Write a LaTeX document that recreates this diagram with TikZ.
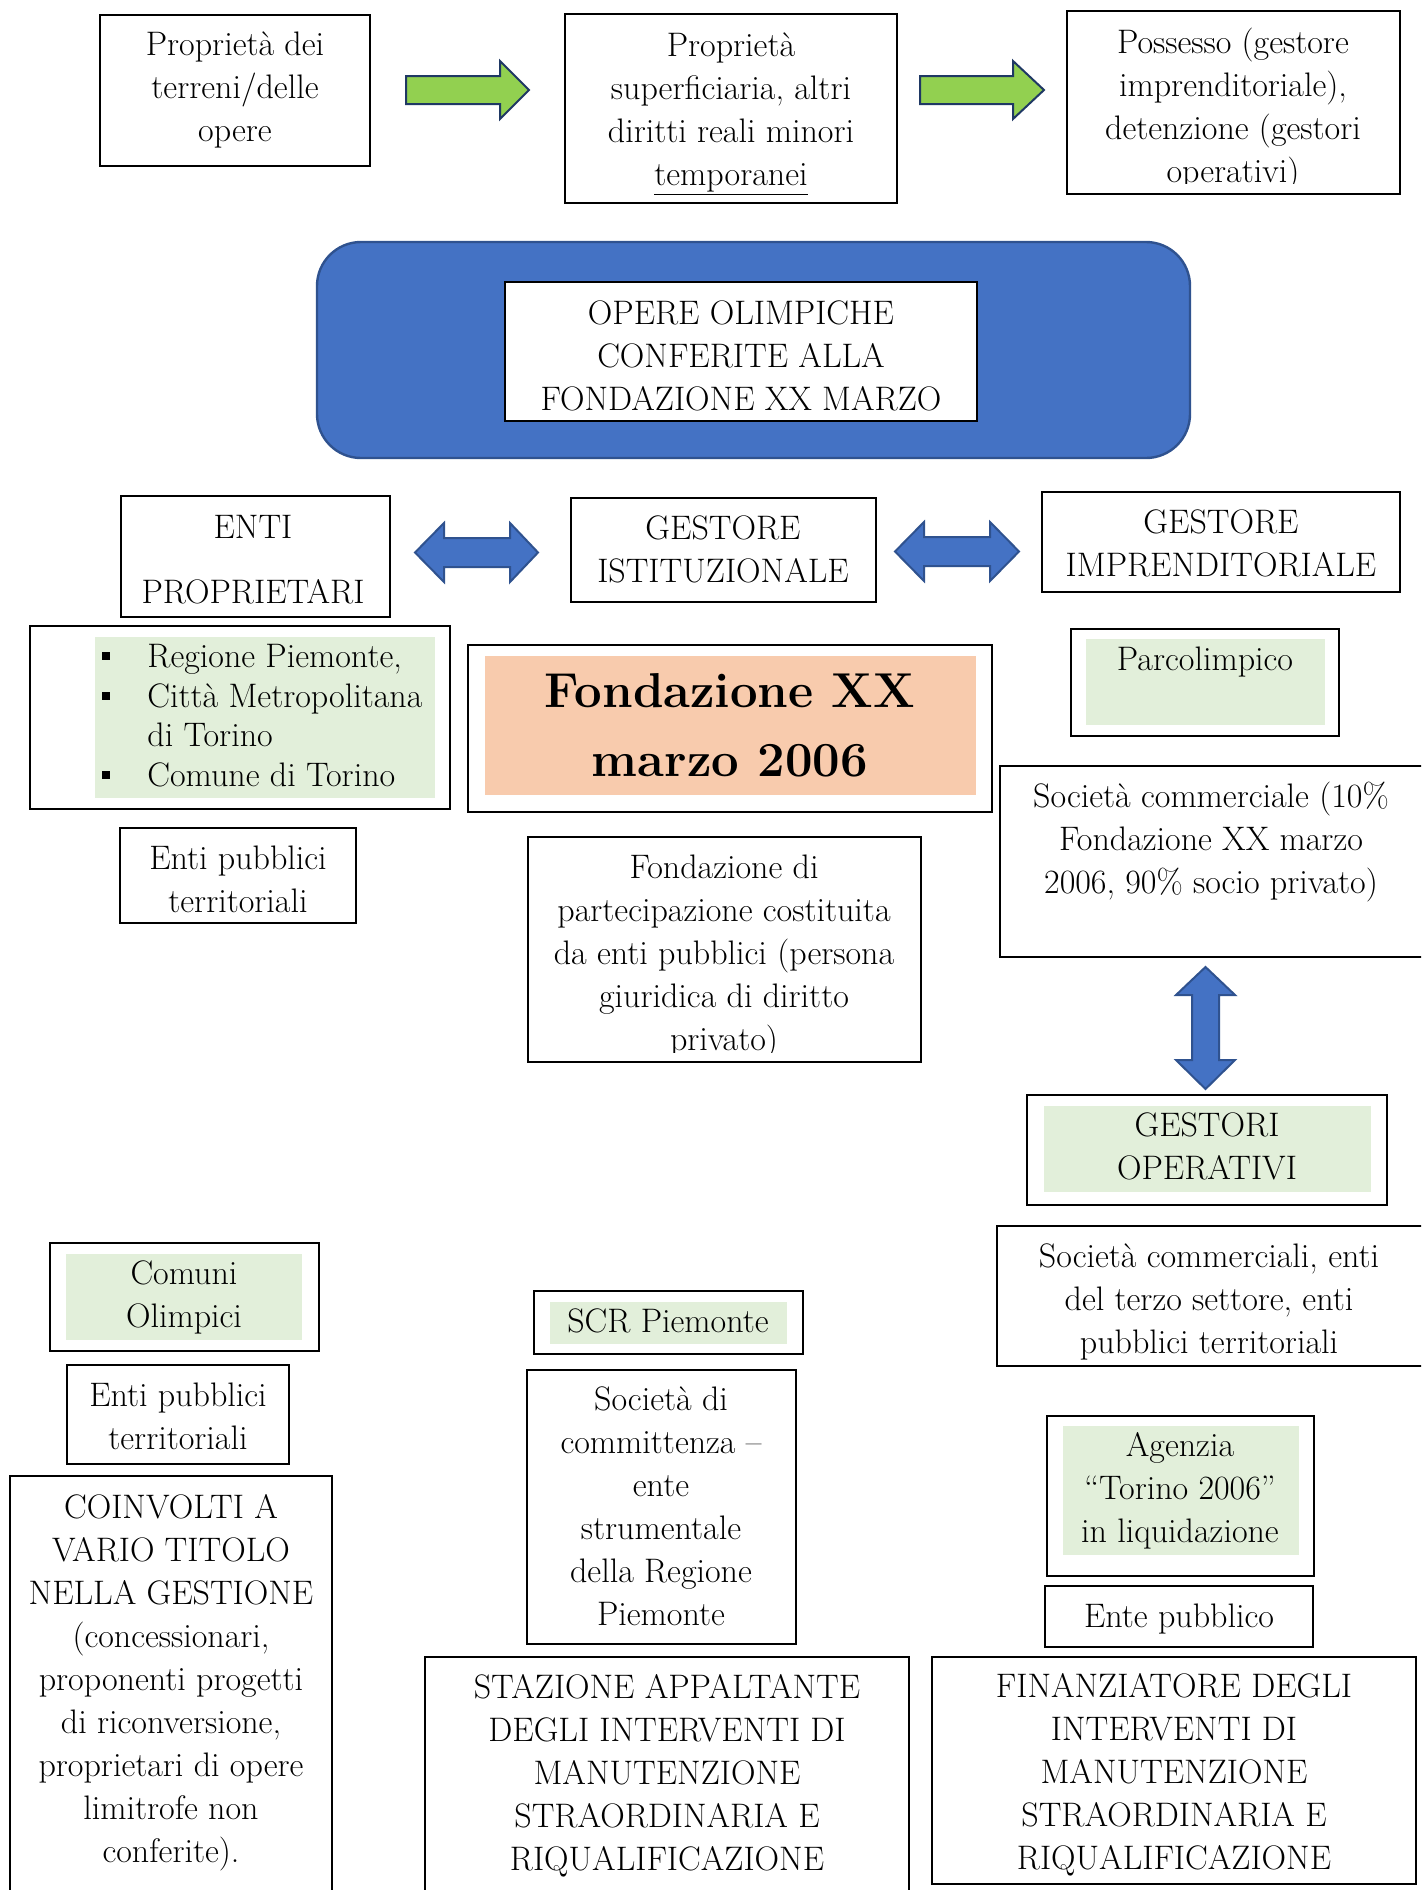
\documentclass[tikz,border=0pt]{standalone}
\usepackage{fontspec}
\usetikzlibrary{fit}
\definecolor{lgreen}{HTML}{E2EFDA}
\definecolor{peach}{HTML}{F8CBAD}
\definecolor{oblue}{HTML}{4472C4}
\definecolor{dblue}{HTML}{2F528F}
\definecolor{agreen}{HTML}{92D050}
\definecolor{navy}{HTML}{1F3864}
\newcommand\mytxt[4]{\node[txt] (#1) at (#2,#3-30.1) {\strut #4};}
\begin{document}
\begin{tikzpicture}[x=0.5pt,y=-0.5pt,
  box/.style={draw=black, line width=1pt, inner sep=0pt, fill=white},
  gbox/.style={fill=lgreen, draw=none, inner sep=0pt},
  txt/.style={anchor=north, inner sep=0pt, align=center, font=\fontsize{17}{21.5}\selectfont},
  barrow/.style={fill=oblue, draw=dblue, line width=1pt, line join=miter},
  garrow/.style={fill=agreen, draw=navy, line width=1pt, line join=miter},
]
\useasboundingbox (0,0) rectangle (1421,1890);
\clip (0,0) rectangle (1421,1890);
\fill[white] (0,0) rectangle (1421,1890);

% ---------- top row ----------
\node[box, fit={(100,15) (370,166)}] (b1) {};
\node[box, fit={(565,14) (897,203)}] (b2) {};
\node[box, fit={(1067,11) (1400,194)}] (b3) {};
\mytxt{t1}{235}{55}{Proprietà dei\\terreni/delle\\opere}
\mytxt{t2}{731}{56}{Proprietà\\superficiaria, altri\\diritti reali minori\\\underline{temporanei}}
\begin{scope}
\clip (1067,11) rectangle (1400,183);
\mytxt{t3}{1233}{53}{Possesso (gestore\\imprenditoriale),\\detenzione (gestori\\operativi)}
\end{scope}
\draw[garrow] (406,76) -- (500,76) -- (500,61) -- (529,90) -- (500,119) -- (500,104) -- (406,104) -- cycle;
\draw[garrow] (920,76) -- (1013,76) -- (1013,61) -- (1044,90) -- (1013,119) -- (1013,104) -- (920,104) -- cycle;

% ---------- blue band ----------
\node[fill=oblue, draw=dblue, line width=1.2pt, rounded corners=22pt, inner sep=0pt, fit={(317,242) (1190,458)}] (blue) {};
\node[box, fit={(505,282) (977,421)}] (opere) {};
\mytxt{t4}{741}{324}{OPERE OLIMPICHE\\CONFERITE ALLA\\FONDAZIONE XX MARZO}

% ---------- third row ----------
\node[box, fit={(121,496) (390,617)}] (enti) {};
\node[box, fit={(571,498) (876,602)}] (gist) {};
\node[box, fit={(1042,492) (1400,592)}] (gimp) {};
\mytxt{t5}{253}{538}{ENTI\\[11pt]PROPRIETARI}
\mytxt{t6}{723}{539}{GESTORE\\ISTITUZIONALE}
\mytxt{t7}{1221}{533}{GESTORE\\IMPRENDITORIALE}
\draw[barrow] (415,552.5) -- (444,523) -- (444,538) -- (510,538) -- (510,523) -- (538,552.5) -- (510,582) -- (510,567) -- (444,567) -- (444,582) -- cycle;
\draw[barrow] (895,551.5) -- (924,522) -- (924,537) -- (990,537) -- (990,522) -- (1019,551.5) -- (990,581) -- (990,566) -- (924,566) -- (924,581) -- cycle;

% ---------- Regione list ----------
\node[box, fit={(30,626) (450,809)}] (reg) {};
\node[gbox, fit={(95,637) (435,798)}] (regg) {};
\node[anchor=north west, inner sep=0pt, align=left, font=\fontsize{17}{19.8}\selectfont] (t8) at (147,667-27.7)
  {\strut Regione Piemonte,\\Città Metropolitana\\di Torino\\Comune di Torino};
\foreach \b in {667,707,786} \fill[black] (102,\b-15) rectangle (110,\b-7);

% ---------- Fondazione ----------
\node[box, fit={(468,645) (992,812)}] (fond) {};
\node[fill=peach, draw=none, inner sep=0pt, fit={(485,656) (976,795)}] (fondp) {};
\node[anchor=north, inner sep=0pt, align=center, font=\bfseries\fontsize{24.5}{34.5}\selectfont] (t9) at (730,707-48.3)
  {\strut Fondazione XX\\marzo 2006};

% ---------- Parcolimpico ----------
\node[box, fit={(1071,629) (1339,736)}] (parco) {};
\node[gbox, fit={(1086,639) (1325,725)}] (parcog) {};
\mytxt{t10}{1205}{670}{Parcolimpico}

\node[box, fit={(1000,766) (1430,957)}] (socc) {};
\mytxt{t11}{1211}{807}{Società commerciale (10\%\\Fondazione XX marzo\\2006, 90\% socio privato)}

\node[box, fit={(120,828) (356,923)}] (ept1) {};
\mytxt{t12}{238}{869}{Enti pubblici\\territoriali}

\node[box, fit={(528,837) (921,1062)}] (fpart) {};
\begin{scope}
\clip (528,837) rectangle (921,1052);
\mytxt{t13}{724}{878}{Fondazione di\\partecipazione costituita\\da enti pubblici (persona\\giuridica di diritto\\privato)}
\end{scope}

% vertical arrow
\draw[barrow] (1205.5,967) -- (1235,995) -- (1219,995) -- (1219,1060) -- (1235,1060) -- (1205.5,1089) -- (1176,1060) -- (1192,1060) -- (1192,995) -- (1176,995) -- cycle;

\node[box, fit={(1027,1095) (1387,1205)}] (gop) {};
\node[gbox, fit={(1044,1106) (1371,1192)}] (gopg) {};
\mytxt{t14}{1207}{1136}{GESTORI\\OPERATIVI}

\node[box, fit={(997,1226) (1430,1366)}] (socc2) {};
\mytxt{t15}{1209}{1267}{Società commerciali, enti\\del terzo settore, enti\\pubblici territoriali}

% ---------- lower left ----------
\node[box, fit={(50,1243) (319,1351)}] (comuni) {};
\node[gbox, fit={(66,1254) (302,1340)}] (comunig) {};
\mytxt{t16}{184}{1284}{Comuni\\Olimpici}

\node[box, fit={(67,1365) (289,1464)}] (ept2) {};
\mytxt{t18}{178}{1406}{Enti pubblici\\territoriali}

\node[box, fit={(10,1476) (332,1900)}] (coinv) {};
\mytxt{t22}{171}{1518}{COINVOLTI A\\VARIO TITOLO\\NELLA GESTIONE\\(concessionari,\\proponenti progetti\\di riconversione,\\proprietari di opere\\limitrofe non\\conferite).}

% ---------- lower middle ----------
\node[box, fit={(534,1291) (803,1354)}] (scr) {};
\node[gbox, fit={(550,1302) (787,1344)}] (scrg) {};
\mytxt{t17}{668}{1332}{SCR Piemonte}

\node[box, fit={(527,1370) (796,1644)}] (scomm) {};
\mytxt{t19}{661}{1410}{Società di\\committenza –\\ente\\strumentale\\della Regione\\Piemonte}

\node[box, fit={(425,1657) (909,1900)}] (staz) {};
\mytxt{t23}{667}{1698}{STAZIONE APPALTANTE\\DEGLI INTERVENTI DI\\MANUTENZIONE\\STRAORDINARIA E\\RIQUALIFICAZIONE}

% ---------- lower right ----------
\node[box, fit={(1047,1416) (1314,1576)}] (agenzia) {};
\node[gbox, fit={(1063,1426) (1299,1555)}] (agenziag) {};
\mytxt{t20}{1180}{1456}{Agenzia\\“Torino 2006”\\in liquidazione}

\node[box, fit={(1045,1586) (1313,1647)}] (entep) {};
\mytxt{t21}{1179}{1627}{Ente pubblico}

\node[box, fit={(932,1657) (1416,1884)}] (fin) {};
\mytxt{t24}{1174}{1697}{FINANZIATORE DEGLI\\INTERVENTI DI\\MANUTENZIONE\\STRAORDINARIA E\\RIQUALIFICAZIONE}
\end{tikzpicture}
\end{document}
